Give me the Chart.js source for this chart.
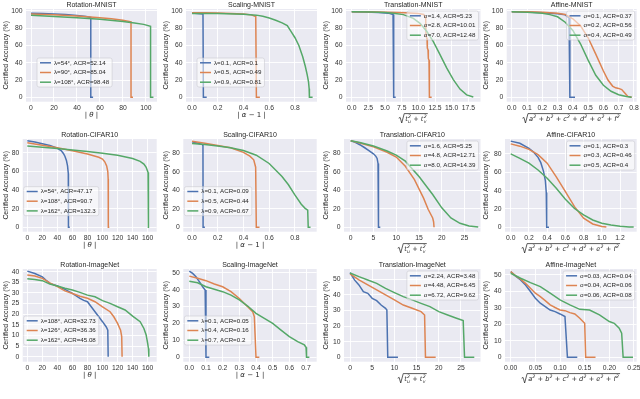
<!DOCTYPE html>
<html>
<head>
<meta charset="utf-8">
<script src="https://cdn.jsdelivr.net/npm/chart.js@4.4.1/dist/chart.umd.min.js"></script>
<style>
  html, body { margin: 0; padding: 0; background: #fff; width: 640px; height: 399px; overflow: hidden; }
  #wrap { position: relative; width: 640px; height: 399px; }
  canvas { position: absolute; }
</style>
</head>
<body>
<div id="wrap"></div>
<script>
// ---- data: [radius, certified accuracy %] ----
const rotMnist54 = [[0,97.5],[10,97.2],[20,96.6],[30,95.8],[40,94.8],[48,93.5],[52,92.5],[52,0],[54,0]];
const rotMnist90 = [[0,96.5],[20,95.6],[40,94.2],[60,92.3],[70,91],[80,89.3],[87,87.5],[87,0],[88.7,0]];
const rotMnist108 = [[0,95],[20,93.7],[40,92.2],[60,90.3],[80,87.8],[90,86.2],[98,84.5],[104,82.3],[104,0],[106.5,0]];
const rotMnistLabels = ['λ=54°, ACR=52.14', 'λ=90°, ACR=85.04', 'λ=108°, ACR=98.48'];

const sclMnist01 = [[0,97.6],[0.04,97.2],[0.085,96.5],[0.088,0],[0.114,0]];
const sclMnist05 = [[0,98],[0.1,97.9],[0.2,97.6],[0.3,97.2],[0.4,96.5],[0.46,95.5],[0.495,93.5],[0.5,0],[0.527,0]];
const sclMnist09 = [[0,97.2],[0.2,97],[0.4,96.3],[0.5,95.2],[0.55,93.8],[0.6,91.8],[0.65,89.3],[0.7,86.3],[0.74,83],[0.77,76],[0.8,69],[0.83,60],[0.86,47],[0.88,36],[0.895,26],[0.905,18],[0.91,10],[0.912,0],[0.937,0]];
const sclMnistLabels = ['λ=0.1, ACR=0.1', 'λ=0.5, ACR=0.49', 'λ=0.9, ACR=0.81'];

const trnMnist14 = [[0,99],[2,98.8],[4,98.3],[5.5,97.5],[6.2,96],[6.3,94],[6.3,0],[6.6,0]];
const trnMnist28 = [[0,99],[4,98.7],[8,98],[10,97.2],[10.8,96],[11.1,92],[11.15,71],[11.3,68],[11.35,57],[11.45,55],[11.5,45],[11.6,43],[11.62,20],[11.7,0],[12,0]];
const trnMnist70 = [[0,99],[3,98.8],[5,98.3],[6.25,97.3],[7.75,95.8],[9.25,91.5],[10.25,85.7],[11.25,76.5],[12.25,64.5],[13.25,49.5],[14.25,34],[15.25,20.5],[16.25,9.5],[17.25,2.8],[18.25,0.3]];
const trnMnistLabels = ['σ=1.4, ACR=5.23', 'σ=2.8, ACR=10.01', 'σ=7.0, ACR=12.48'];

const affMnist01 = [[0,99],[0.1,98.8],[0.2,98],[0.3,96.8],[0.35,95.5],[0.375,92],[0.38,85],[0.381,0],[0.414,0]];
const affMnist02 = [[0,99.2],[0.1,99],[0.2,98.5],[0.3,97.5],[0.35,96],[0.4,91],[0.45,83],[0.5,69],[0.55,50],[0.6,30.5],[0.63,20],[0.66,13],[0.68,11],[0.7,10.3],[0.72,9],[0.74,5],[0.76,1],[0.785,0]];
const affMnist04 = [[0,99],[0.1,98.5],[0.2,97.3],[0.25,95.8],[0.3,93.3],[0.35,87],[0.4,77.5],[0.45,62],[0.5,43],[0.55,25.5],[0.6,14],[0.65,7],[0.7,3],[0.75,1],[0.785,0]];
const affMnistLabels = ['σ=0.1, ACR=0.37', 'σ=0.2, ACR=0.56', 'σ=0.4, ACR=0.49'];

const rotCifar54 = [[0,93],[10,91.7],[20,90],[30,88],[40,85],[45,82.5],[48,79.5],[50,76.5],[52,72],[53.5,66],[54.5,58],[54.7,0],[56.5,0]];
const rotCifar108 = [[0,91],[20,88.2],[40,85.6],[60,82.3],[80,78.8],[95,75.3],[100,73.5],[103,70.5],[105.5,66],[107,60],[107.5,52],[107.7,0],[109,0]];
const rotCifar162 = [[0,87.5],[20,86.2],[40,84.8],[60,83.2],[80,81.5],[100,79.6],[120,77.4],[140,74],[150,71],[155,68],[158,64.5],[160.5,59],[161,0],[162,0]];
const rotCifarLabels = ['λ=54°, ACR=47.17', 'λ=108°, ACR=90.7', 'λ=162°, ACR=132.3'];

const sclCifar01 = [[0,92.5],[0.04,91.2],[0.08,89.5],[0.085,88],[0.086,0],[0.1,0]];
const sclCifar05 = [[0,93],[0.1,91],[0.2,88.5],[0.3,86],[0.4,81],[0.45,77],[0.48,73],[0.495,65],[0.5,0],[0.525,0]];
const sclCifar09 = [[0,90.5],[0.1,89.5],[0.2,88],[0.3,86],[0.4,83],[0.5,78],[0.6,69],[0.7,55],[0.75,46],[0.8,35],[0.85,25],[0.88,20.5],[0.9,18.5],[0.904,0],[0.922,0]];
const sclCifarLabels = ['λ=0.1, ACR=0.09', 'λ=0.5, ACR=0.44', 'λ=0.9, ACR=0.67'];

const trnCifar16 = [[0,93.5],[1,92],[2,89.3],[3,86.3],[4,83],[5,79.5],[5.5,77],[5.8,74.5],[6,69],[6.1,0],[6.5,0]];
const trnCifar48 = [[0,93.5],[2,91.2],[5,87],[8,81.2],[10,76],[12,66],[14,51.5],[16,31.5],[17,19.5],[18,10],[18.2,6],[18.3,0],[18.5,0]];
const trnCifar80 = [[0,93.5],[2,91.6],[5,88],[8,82.5],[10,78],[12,71.5],[15,55],[18,35.5],[20,21],[22,10],[24,4.3],[26,1.4],[28,0.3]];
const trnCifarLabels = ['σ=1.6, ACR=5.25', 'σ=4.8, ACR=12.71', 'σ=8.0, ACR=14.39'];

const affCifar01 = [[0,94],[0.1,91.6],[0.2,86.2],[0.25,82],[0.3,76.3],[0.33,70.5],[0.36,61],[0.38,51],[0.39,38],[0.395,0],[0.42,0]];
const affCifar03 = [[0,91],[0.1,88.5],[0.2,85],[0.3,79.3],[0.4,70],[0.5,55],[0.6,39],[0.7,22.5],[0.8,10],[0.9,3.6],[1.0,0.8],[1.05,0.3]];
const affCifar05 = [[0,80],[0.1,75.2],[0.2,70],[0.3,62.5],[0.4,53.5],[0.5,42.5],[0.6,30.5],[0.7,20.5],[0.8,13.5],[0.9,8],[1.0,4.5],[1.1,2.5],[1.2,1.1],[1.3,0.4],[1.35,0.2]];
const affCifarLabels = ['σ=0.1, ACR=0.3', 'σ=0.3, ACR=0.46', 'σ=0.5, ACR=0.4'];

const rotImg108 = [[0,40.3],[10,39.2],[20,37.6],[25,36],[30,34.5],[40,33.3],[50,31.7],[60,29.8],[70,27.5],[75,26.5],[80,25.9],[85,23.5],[90,21.2],[95,18.8],[100,16.5],[105,14],[107,12.5],[107.5,0]];
const rotImg126 = [[0,38.5],[10,38],[20,36.9],[30,34.8],[40,33],[50,31],[60,29.8],[70,28.5],[80,27.5],[90,25.9],[100,23.5],[110,21.2],[115,18.8],[120,15.7],[124,12.5],[125.5,9.5],[126,0]];
const rotImg162 = [[0,36.7],[10,36.4],[20,35.8],[30,34.2],[40,33.3],[50,32.2],[60,31.4],[70,30.3],[80,29],[90,28.2],[100,26.4],[110,25.1],[120,23.5],[130,22],[140,19.1],[150,16.5],[155,13.3],[158,10.2],[160,6.3],[161,3.9],[161.5,0]];
const rotImgLabels = ['λ=108°, ACR=32.73', 'λ=126°, ACR=36.36', 'λ=162°, ACR=45.08'];

const sclImg01 = [[0,51],[0.02,49.6],[0.04,47.6],[0.06,44.7],[0.08,41.7],[0.095,39.8],[0.1,0],[0.12,0]];
const sclImg04 = [[0,48],[0.05,46.7],[0.1,45.3],[0.15,43.3],[0.2,41.7],[0.25,38.8],[0.3,34.8],[0.35,29.9],[0.38,27],[0.39,24],[0.4,0],[0.42,0]];
const sclImg07 = [[0,45],[0.05,44.1],[0.1,41.7],[0.15,40.2],[0.2,38.8],[0.25,36.8],[0.3,33.9],[0.35,30.3],[0.4,26],[0.45,23],[0.5,20],[0.55,16.1],[0.6,12.2],[0.65,9.3],[0.69,7.3],[0.7,5.9],[0.703,0],[0.72,0]];
const sclImgLabels = ['λ=0.1, ACR=0.05', 'λ=0.4, ACR=0.16', 'λ=0.7, ACR=0.2'];

const trnImg224 = [[0,54.3],[1,49.6],[2,46.4],[3,42.1],[4,41],[5,37.8],[6,36.3],[7,33.5],[8,31.4],[8.3,30.3],[8.5,0],[10.8,0]];
const trnImg448 = [[0,53.4],[2,49.6],[4,46.4],[6,43.2],[8,40],[10,36.8],[12,33.5],[14,31.4],[16,29.3],[16.8,27.1],[17,0],[19.3,0]];
const trnImg672 = [[0,54],[2,51.7],[4,49.6],[6,47.4],[8,44.2],[10,41.5],[12,38.9],[14,36.8],[16,34.6],[18,32.5],[20,29.3],[22,27.1],[24,25],[25.5,23.5],[25.8,0],[28,0]];
const trnImgLabels = ['σ=2.24, ACR=3.48', 'σ=4.48, ACR=6.45', 'σ=6.72, ACR=9.62'];

const affImg003 = [[0,52],[0.01,49.2],[0.02,47],[0.03,43.9],[0.04,39.9],[0.05,35.8],[0.06,32.8],[0.07,30.8],[0.08,28.7],[0.09,27.7],[0.1,26.3],[0.11,24.7],[0.115,0],[0.135,0]];
const affImg004 = [[0,52],[0.01,49.4],[0.02,47.4],[0.03,44.9],[0.04,41.9],[0.05,38.9],[0.06,36.8],[0.07,34.4],[0.08,31.8],[0.09,30.2],[0.1,28.7],[0.11,28.3],[0.12,27.1],[0.13,26.3],[0.14,23.7],[0.15,20.6],[0.152,0],[0.172,0]];
const affImg006 = [[0,51],[0.02,48],[0.04,45.3],[0.06,42.9],[0.08,38.9],[0.1,34.8],[0.12,31.8],[0.14,29.1],[0.16,28.7],[0.18,25.7],[0.2,21.7],[0.21,20.6],[0.22,17.6],[0.225,14.6],[0.228,0],[0.248,0]];
const affImgLabels = ['σ=0.03, ACR=0.04', 'σ=0.04, ACR=0.06', 'σ=0.06, ACR=0.08'];

// tick labels
const yTicks100 = ['0', '20', '40', '60', '80', '100'];
const yTicks80 = ['0', '20', '40', '60', '80'];
const yTicks40 = ['0', '5', '10', '15', '20', '25', '30', '35', '40'];
const yTicks50 = ['0', '10', '20', '30', '40', '50'];
const xTicksDeg100 = ['0', '20', '40', '60', '80', '100'];
const xTicksDeg160 = ['0', '20', '40', '60', '80', '100', '120', '140', '160'];
const xTicksScale8 = ['0.0', '0.2', '0.4', '0.6', '0.8'];
const xTicksScale7 = ['0.0', '0.1', '0.2', '0.3', '0.4', '0.5', '0.6', '0.7'];
const xTicksTrn17 = ['0.0', '2.5', '5.0', '7.5', '10.0', '12.5', '15.0', '17.5'];
const xTicksTrn25 = ['0', '5', '10', '15', '20', '25'];
const xTicksAff8 = ['0.0', '0.1', '0.2', '0.3', '0.4', '0.5', '0.6', '0.7', '0.8'];
const xTicksAff12 = ['0.0', '0.2', '0.4', '0.6', '0.8', '1.0', '1.2'];
const xTicksAff025 = ['0.00', '0.05', '0.10', '0.15', '0.20', '0.25'];

// ---- look ----
const COLORS = ['#4c72b0', '#dd8452', '#55a868'];
const FONT = '"Liberation Sans", Arial, sans-serif';
const MATH = '"DejaVu Sans", sans-serif';
const TEXT = '#262626';
const TICK = '#333333';
const BG = '#eaeaf2';
const W = 164;
const ROW_TOP = [0, 130, 260];
const ROW_H = [130, 130, 139];
const PLOT_TOP = 9;
const PLOT_BOTTOM = 101.7;

const PANELS = [
  { title: 'Rotation-MNIST', col: 0, row: 0, series: [rotMnist54, rotMnist90, rotMnist108], labels: rotMnistLabels,
    xTicks: xTicksDeg100, yTicks: yTicks100, x: [-4.35, 109.6], y: [-5.1, 102.3], left: 26, right: 157, xt: 'theta', lg: ['left', 11, 58] },
  { title: 'Scaling-MNIST', col: 1, row: 0, series: [sclMnist01, sclMnist05, sclMnist09], labels: sclMnistLabels,
    xTicks: xTicksScale8, yTicks: yTicks100, x: [-0.047, 0.971], y: [-5.1, 102.3], left: 26, right: 157, xt: 'alpha', lg: ['left', 11, 58] },
  { title: 'Translation-MNIST', col: 2, row: 0, series: [trnMnist14, trnMnist28, trnMnist70], labels: trnMnistLabels,
    xTicks: xTicksTrn17, yTicks: yTicks100, x: [-0.86, 19.33], y: [-5.1, 102.3], left: 26, right: 160.5, xt: 'trans', lg: ['right'] },
  { title: 'Affine-MNIST', col: 3, row: 0, series: [affMnist01, affMnist02, affMnist04], labels: affMnistLabels,
    xTicks: xTicksAff8, yTicks: yTicks100, x: [-0.033, 0.818], y: [-5.1, 102.3], left: 26.7, right: 156.7, xt: 'affine', lg: ['right'] },

  { title: 'Rotation-CIFAR10', col: 0, row: 1, series: [rotCifar54, rotCifar108, rotCifar162], labels: rotCifarLabels,
    xTicks: xTicksDeg160, yTicks: yTicks80, x: [-6.1, 172], y: [-4.7, 95], left: 22.7, right: 156.7, xt: 'theta', lg: ['left', 1, 56.7] },
  { title: 'Scaling-CIFAR10', col: 1, row: 1, series: [sclCifar01, sclCifar05, sclCifar09], labels: sclCifarLabels,
    xTicks: xTicksScale8, yTicks: yTicks80, x: [-0.068, 0.97], y: [-4.8, 95.5], left: 23.3, right: 156.7, xt: 'alpha', lg: ['left', 1, 56.7] },
  { title: 'Translation-CIFAR10', col: 2, row: 1, series: [trnCifar16, trnCifar48, trnCifar80], labels: trnCifarLabels,
    xTicks: xTicksTrn25, yTicks: yTicks80, x: [-1.47, 28.5], y: [-4.8, 95.5], left: 24, right: 160.5, xt: 'trans', lg: ['right'] },
  { title: 'Affine-CIFAR10', col: 3, row: 1, series: [affCifar01, affCifar03, affCifar05], labels: affCifarLabels,
    xTicks: xTicksAff12, yTicks: yTicks80, x: [-0.063, 1.383], y: [-4.8, 96.3], left: 25, right: 156.7, xt: 'affine', lg: ['right'] },

  { title: 'Rotation-ImageNet', col: 0, row: 2, series: [rotImg108, rotImg126, rotImg162], labels: rotImgLabels,
    xTicks: xTicksDeg160, yTicks: yTicks40, x: [-6.1, 172], y: [-2.35, 41.3], left: 22.7, right: 156.7, xt: 'theta', lg: ['left', 1, 56] },
  { title: 'Scaling-ImageNet', col: 1, row: 2, series: [sclImg01, sclImg04, sclImg07], labels: sclImgLabels,
    xTicks: xTicksScale7, yTicks: yTicks50, x: [-0.036, 0.764], y: [-2.6, 52.2], left: 23.3, right: 156.7, xt: 'alpha', lg: ['left', 1, 56] },
  { title: 'Translation-ImageNet', col: 2, row: 2, series: [trnImg224, trnImg448, trnImg672], labels: trnImgLabels,
    xTicks: xTicksTrn25, yTicks: yTicks50, x: [-1.36, 29.4], y: [-2.8, 56.6], left: 24, right: 160.5, xt: 'trans', lg: ['right'] },
  { title: 'Affine-ImageNet', col: 3, row: 2, series: [affImg003, affImg004, affImg006], labels: affImgLabels,
    xTicks: xTicksAff025, yTicks: yTicks50, x: [-0.0116, 0.2555], y: [-2.7, 53.6], left: 25, right: 156.7, xt: 'affine', lg: ['right'] },
];

// text runs: [text, italic]
function drawRuns(ctx, cx, cy, runs, size) {
  let total = 0;
  const widths = runs.map(([t, it]) => {
    ctx.font = `${it ? 'italic ' : ''}${size}px ${MATH}`;
    const w = ctx.measureText(t).width;
    total += w;
    return w;
  });
  let x = cx - total / 2;
  ctx.textAlign = 'left';
  ctx.textBaseline = 'middle';
  runs.forEach(([t, it], i) => {
    ctx.font = `${it ? 'italic ' : ''}${size}px ${MATH}`;
    ctx.fillText(t, x, cy);
    x += widths[i];
  });
}

// square-root title: terms = [[base, sub], ...], every base squared
function drawSqrt(ctx, cx, baseline, terms) {
  const fb = `italic 6.6px ${MATH}`, fs = `italic 4.6px ${MATH}`, fp = `6.6px ${MATH}`;
  const items = [];
  let w = 0;
  terms.forEach((t, i) => {
    if (i) {
      ctx.font = fp;
      const pw = ctx.measureText(' + ').width;
      items.push({ plus: true, w: pw });
      w += pw;
    }
    ctx.font = fb;
    const bw = ctx.measureText(t[0]).width;
    ctx.font = fs;
    const sw = Math.max(ctx.measureText('2').width, t[1] ? ctx.measureText(t[1]).width : 0);
    items.push({ t, bw, w: bw + sw + 0.4 });
    w += bw + sw + 0.4;
  });
  const rad = 6.5;
  const total = rad + w + 1;
  let x = cx - total / 2;
  const top = baseline - 7.6;
  ctx.strokeStyle = TEXT;
  ctx.lineWidth = 0.75;
  ctx.beginPath();
  ctx.moveTo(x, baseline - 3);
  ctx.lineTo(x + 1.4, baseline - 3.8);
  ctx.lineTo(x + 3, baseline + 1.8);
  ctx.lineTo(x + 5.5, top);
  ctx.lineTo(x + total, top);
  ctx.stroke();
  x += rad;
  ctx.textAlign = 'left';
  ctx.textBaseline = 'alphabetic';
  items.forEach((it) => {
    if (it.plus) {
      ctx.font = fp;
      ctx.fillText(' + ', x, baseline);
    } else {
      ctx.font = fb;
      ctx.fillText(it.t[0], x, baseline);
      ctx.font = fs;
      ctx.fillText('2', x + it.bw + 0.2, baseline - 3.2);
      if (it.t[1]) ctx.fillText(it.t[1], x + it.bw + 0.2, baseline + 1.8);
    }
    x += it.w;
  });
}

function decor(p) {
  return {
    id: 'decor',
    beforeDraw(chart) {
      const { ctx, chartArea: a } = chart;
      ctx.save();
      ctx.fillStyle = BG;
      ctx.fillRect(a.left, a.top, a.right - a.left, a.bottom - a.top);
      ctx.restore();
    },
    afterDraw(chart) {
      const { ctx, chartArea: a } = chart;
      const cx = (a.left + a.right) / 2;
      ctx.save();
      ctx.fillStyle = TEXT;

      // title
      ctx.font = `7px ${FONT}`;
      ctx.textAlign = 'center';
      ctx.textBaseline = 'alphabetic';
      ctx.fillText(p.title, cx, a.top - 2.5);

      // y title
      ctx.save();
      ctx.translate(6.5, (a.top + a.bottom) / 2);
      ctx.rotate(-Math.PI / 2);
      ctx.font = `6.9px ${FONT}`;
      ctx.textAlign = 'center';
      ctx.textBaseline = 'middle';
      ctx.fillText('Certified Accuracy (%)', 0, 0);
      ctx.restore();

      // x title
      if (p.xt === 'theta') drawRuns(ctx, cx, a.bottom + 13.5, [['|', false], [' θ ', true], ['|', false]], 7);
      if (p.xt === 'alpha') drawRuns(ctx, cx, a.bottom + 13.5, [['| ', false], ['α', true], [' − 1 |', false]], 7);
      if (p.xt === 'trans') drawSqrt(ctx, cx, a.bottom + 19.5, [['t', 'u'], ['t', 'v']]);
      if (p.xt === 'affine') drawSqrt(ctx, cx, a.bottom + 19.5, [['a'], ['b'], ['c'], ['d'], ['e'], ['f']]);

      // legend
      ctx.font = `6.2px ${FONT}`;
      const tw = Math.max(...p.labels.map((l) => ctx.measureText(l).width));
      const bw = 3 + 11 + 3 + tw + 3;
      const bh = 29;
      const bx = p.lg[0] === 'left' ? a.left + p.lg[1] : a.right - 2 - bw;
      const by = p.lg[0] === 'left' ? p.lg[2] : a.top + 2;
      ctx.beginPath();
      ctx.roundRect(bx, by, bw, bh, 2);
      ctx.fillStyle = 'rgba(255,255,255,0.55)';
      ctx.fill();
      ctx.strokeStyle = 'rgba(200,200,205,0.9)';
      ctx.lineWidth = 0.6;
      ctx.stroke();
      p.labels.forEach((l, i) => {
        const y = by + 4.8 + i * 9.7;
        ctx.strokeStyle = COLORS[i];
        ctx.lineWidth = 1.5;
        ctx.beginPath();
        ctx.moveTo(bx + 3, y);
        ctx.lineTo(bx + 14, y);
        ctx.stroke();
        ctx.fillStyle = TEXT;
        ctx.textAlign = 'left';
        ctx.textBaseline = 'middle';
        ctx.fillText(l, bx + 17, y);
      });
      ctx.restore();
    },
  };
}

function axis(p, which) {
  const isX = which === 'x';
  const labels = isX ? p.xTicks : p.yTicks;
  const H = ROW_H[p.row];
  return {
    type: 'linear',
    min: isX ? p.x[0] : p.y[0],
    max: isX ? p.x[1] : p.y[1],
    afterFit: (s) => {
      if (isX) s.height = H - PLOT_BOTTOM;
      else s.width = p.left;
    },
    afterBuildTicks: (s) => {
      s.ticks = labels.map((t) => ({ value: parseFloat(t) }));
    },
    ticks: {
      callback: (v, i) => labels[i],
      autoSkip: false,
      maxRotation: 0,
      minRotation: 0,
      padding: isX ? 2.5 : 3.5,
      color: TICK,
      font: { family: FONT, size: 6.8 },
    },
    grid: { color: '#ffffff', lineWidth: 0.9, drawTicks: false },
    border: { display: false },
  };
}

const wrap = document.getElementById('wrap');
PANELS.forEach((p) => {
  const H = ROW_H[p.row];
  const canvas = document.createElement('canvas');
  canvas.width = W;
  canvas.height = H;
  canvas.style.left = p.col * 160 + 'px';
  canvas.style.top = ROW_TOP[p.row] + 'px';
  canvas.style.width = W + 'px';
  canvas.style.height = H + 'px';
  wrap.appendChild(canvas);

  new Chart(canvas, {
    type: 'line',
    data: {
      datasets: p.series.map((s, i) => ({
        label: p.labels[i],
        data: s.map(([x, y]) => ({ x, y })),
        borderColor: COLORS[i],
        borderWidth: 1.5,
        pointRadius: 0,
        tension: 0,
        fill: false,
        order: 2 - i,
      })),
    },
    options: {
      responsive: false,
      animation: false,
      events: [],
      layout: { autoPadding: false, padding: { left: 0, top: PLOT_TOP, right: W - p.right, bottom: 0 } },
      plugins: { legend: { display: false }, tooltip: { enabled: false }, title: { display: false } },
      scales: { x: axis(p, 'x'), y: axis(p, 'y') },
    },
    plugins: [decor(p)],
  });
});
</script>
</body>
</html>
